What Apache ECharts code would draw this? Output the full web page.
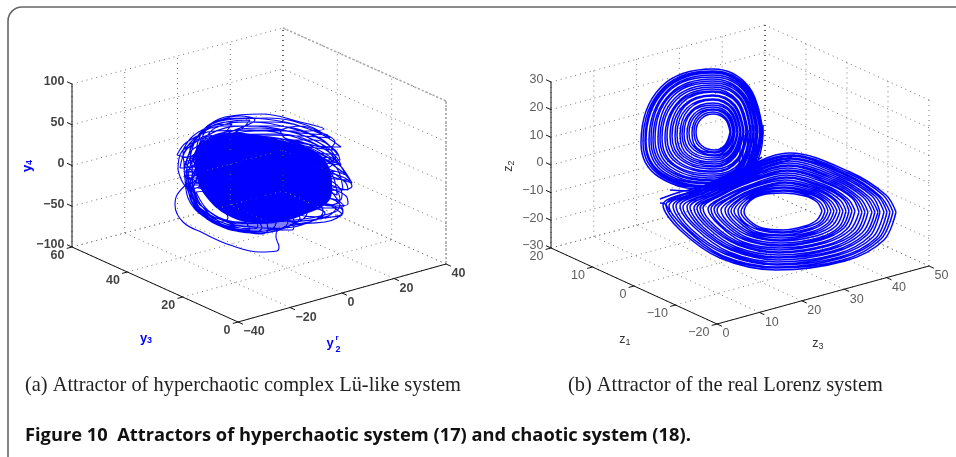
<!DOCTYPE html>
<html>
<head>
<meta charset="utf-8">
<style>html,body{margin:0;padding:0;background:#fff}#chart{width:956px;height:457px}</style>
<script src="https://cdn.jsdelivr.net/npm/echarts@6/dist/echarts.min.js"></script>
</head>
<body>
<div id="chart"></div>
<script>
// tick values of the two 3D boxes
const y3Ticks = [0, 20, 40, 60];
const y2Ticks = [-40, -20, 0, 20, 40];
const y4Ticks = [-100, -50, 0, 50, 100];
const z1Ticks = [-20, -10, 0, 10, 20];
const z3Ticks = [0, 10, 20, 30, 40, 50];
const z2Ticks = [-30, -20, -10, 0, 10, 20, 30];

// traces, in view-plane units of each panel (x1,y1,x2,y2,...)
const bodyA = [195,155, 203,142, 227,133, 257,135, 287,142, 313,150, 328,165, 332,185, 328,202, 303,215, 280,222, 253,223, 227,215, 207,198, 197,178];
const tailA = [188,183, 177,195, 175,205, 183,222, 203,233, 230,245, 260,252, 277,251, 279,247, 276,237, 278,230, 292,230, 294,225, 287,220];
const loopsA = [
  [196,152, 203,131, 225,117, 262,114, 300,122, 324,129, 295,131, 255,131, 215,140],
  [190,158, 200,133, 226,120, 268,118, 306,125, 330,138, 300,136, 255,135, 212,145],
  [186,165, 197,138, 228,122, 272,122, 314,131, 341,147, 318,146, 265,138, 215,150],
  [182,158, 193,140, 222,126, 274,126, 318,137, 338,155, 312,152, 262,143, 212,152],
  [177,155, 187,142, 215,131, 270,130, 318,142, 337,163, 315,158, 262,147, 205,160],
  [180,168, 188,148, 218,135, 278,134, 326,150, 346,175, 325,168, 268,152, 210,165],
  [184,172, 192,150, 222,139, 282,139, 332,158, 352,183, 330,176, 272,158, 212,172],
  [186,178, 192,156, 226,142, 288,146, 334,165, 343,190, 326,183, 275,165, 215,178],
  [188,182, 194,158, 230,145, 292,150, 330,172, 337,195, 320,189, 275,172, 218,185],
  [195,170, 190,185, 200,208, 232,222, 280,224, 325,222, 343,211, 330,198, 280,190, 225,180],
  [192,175, 192,192, 205,213, 238,226, 282,228, 310,222, 323,212, 315,200, 270,188, 220,178],
  [190,178, 194,198, 210,218, 240,228, 272,229, 298,222, 307,213, 298,203, 260,190, 215,178],
  [188,175, 194,200, 212,221, 240,231, 262,233, 285,228, 294,222, 285,210, 250,192, 212,178],
  [186,170, 190,197, 207,219, 235,230, 262,234, 268,230, 266,222, 245,200, 210,180],
  [187,165, 189,188, 204,214, 230,228, 255,232, 262,228, 255,218, 230,198, 200,178],
  [192,160, 193,186, 209,214, 232,226, 252,229, 258,226, 248,214, 225,192, 200,170],
  [230,160, 270,150, 320,170, 345,178, 352,186, 342,190, 310,190, 260,180],
  [240,170, 290,175, 335,190, 340,200, 330,205, 290,205, 250,190],
  [235,140, 270,138, 310,150, 333,163, 320,170, 280,165, 240,155],
  [240,205, 280,210, 320,208, 340,208, 343,213, 325,218, 285,222, 250,218],
  [178,170, 180,155, 192,143, 210,135, 215,150, 200,170, 190,190, 183,183],
  [197,145, 205,128, 220,120, 240,116, 255,120, 235,130, 215,140, 200,155],
  [200,150, 215,128, 250,122, 290,128, 322,140, 333,150, 310,147, 270,140, 225,142],
  [198,148, 212,124, 245,118, 285,122, 318,132, 328,135, 300,133, 260,128, 220,134],
  [194,155, 208,135, 245,126, 292,132, 328,148, 336,158, 315,156, 270,146, 222,148],
  [192,160, 206,139, 250,130, 298,138, 334,155, 341,165, 318,162, 272,152, 225,155],
  [190,166, 205,144, 255,136, 305,146, 338,164, 345,172, 322,170, 275,160, 228,162],
  [191,172, 206,150, 260,142, 312,154, 340,170, 350,180, 328,178, 280,168, 230,170],
  [193,178, 210,155, 265,150, 318,165, 345,182, 348,190, 328,186, 282,176, 232,178],
  [195,182, 215,162, 270,160, 322,176, 342,194, 340,200, 322,196, 280,186, 236,186],
  [198,188, 218,170, 272,170, 325,186, 338,200, 344,206, 326,208, 280,198, 240,194],
  [192,185, 200,205, 240,222, 295,220, 335,212, 340,205, 320,196, 270,190, 225,185],
  [194,188, 204,208, 242,224, 290,224, 328,216, 336,208, 316,202, 265,194, 222,186],
  [196,192, 210,212, 245,226, 285,226, 315,220, 325,213, 305,206, 260,198, 224,190],
  [191,190, 200,212, 228,228, 262,231, 288,226, 300,218, 285,206, 240,195, 210,185],
  [190,184, 197,208, 222,226, 255,233, 278,230, 288,222, 272,208, 232,192, 205,178],
  [188,180, 192,203, 216,224, 248,232, 270,230, 276,223, 258,208, 225,190, 202,174],
  [185,175, 188,198, 206,218, 232,228, 250,230, 244,220, 222,202, 200,184],
  [184,162, 186,185, 198,206, 220,222, 228,218, 212,198, 198,175, 192,160],
  [183,150, 193,136, 212,126, 232,124, 222,136, 204,150, 194,170, 186,168],
  [190,148, 202,132, 226,122, 250,120, 240,130, 218,140, 202,158, 192,168],
  [280,130, 300,126, 322,133, 335,142, 328,148, 305,143, 285,138],
  [290,140, 315,140, 335,150, 340,160, 328,160, 308,152],
  [300,190, 330,190, 346,196, 348,204, 332,206, 310,200],
  [300,205, 325,204, 340,212, 342,215, 325,217, 300,214]
];
const upperLobeB = [
  [230,132, 225,119, 213,114, 201,119, 196,132, 201,145, 215,150, 225,145],
  [231,132, 226,118, 213,112, 199,118, 194,132, 199,146, 215,152, 226,146],
  [233,132, 227,116, 213,110, 198,116, 192,133, 197,148, 215,153, 227,147],
  [234,132, 228,115, 213,109, 196,115, 189,133, 196,149, 215,155, 228,148],
  [235,132, 229,114, 213,107, 194,114, 187,134, 194,150, 215,156, 229,150],
  [237,133, 230,112, 213,105, 192,112, 184,134, 192,152, 215,158, 230,151],
  [238,132, 231,111, 213,103, 191,111, 182,134, 190,153, 215,160, 231,152],
  [240,132, 232,109, 213,100, 189,109, 180,135, 188,155, 215,162, 232,154],
  [241,132, 233,108, 213,99, 187,108, 177,135, 186,156, 215,164, 233,155],
  [243,132, 234,106, 213,96, 185,106, 175,136, 184,157, 215,166, 234,156],
  [244,132, 235,105, 213,95, 184,105, 172,136, 183,159, 215,167, 235,157],
  [246,132, 237,103, 213,92, 182,103, 170,137, 181,160, 215,169, 237,159],
  [247,132, 238,102, 213,91, 180,102, 167,137, 179,162, 215,171, 238,160],
  [248,132, 238,101, 213,89, 179,101, 165,138, 177,163, 215,172, 238,161],
  [250,132, 240,99, 213,87, 177,99, 162,138, 175,165, 215,174, 240,163],
  [251,132, 241,98, 213,85, 175,98, 160,139, 174,166, 215,176, 241,164],
  [253,132, 242,96, 213,83, 173,96, 158,139, 171,167, 215,178, 242,165],
  [254,132, 243,95, 213,81, 171,95, 155,139, 170,169, 215,180, 243,166],
  [256,132, 244,94, 213,79, 170,94, 153,140, 168,170, 215,181, 244,168],
  [257,133, 245,92, 213,77, 168,92, 151,140, 166,171, 215,183, 245,169],
  [258,132, 246,91, 213,75, 167,91, 149,141, 165,173, 215,184, 246,170],
  [260,133, 247,90, 213,73, 165,90, 146,141, 163,174, 215,186, 247,171],
  [261,132, 247,89, 213,72, 164,89, 145,141, 162,175, 215,187, 247,172],
  [262,132, 248,88, 213,71, 163,88, 143,142, 161,176, 215,188, 248,173],
  [263,133, 249,87, 213,69, 161,87, 141,143, 159,177, 215,190, 249,174]
];
const lowerLobeB = [
  [322,211, 317,202, 305,196, 283,193, 262,195, 250,201, 244,212, 250,221, 262,228, 283,230, 305,226, 317,220],
  [325,211, 320,202, 307,195, 283,191, 261,194, 248,201, 241,212, 247,221, 260,229, 283,232, 307,227, 320,221],
  [328,211, 323,201, 309,194, 284,190, 260,193, 246,200, 238,211, 244,222, 259,230, 282,233, 308,229, 322,222],
  [331,211, 325,201, 310,193, 284,188, 259,192, 243,200, 234,211, 242,222, 257,232, 282,235, 310,230, 325,222],
  [334,211, 328,201, 312,192, 284,187, 258,191, 241,199, 231,211, 239,222, 255,233, 282,236, 311,232, 328,223],
  [337,211, 331,201, 314,191, 284,185, 257,190, 239,199, 228,211, 236,223, 254,234, 282,238, 313,233, 330,224],
  [340,211, 334,200, 316,190, 285,183, 256,189, 237,198, 225,210, 233,223, 252,235, 281,240, 315,234, 333,225],
  [343,211, 336,200, 318,189, 285,182, 254,189, 235,198, 221,210, 230,224, 250,236, 281,241, 316,236, 336,226],
  [346,211, 340,200, 320,188, 285,180, 253,187, 232,197, 217,210, 227,224, 248,238, 281,243, 318,238, 339,227],
  [349,211, 343,199, 322,187, 286,178, 252,186, 230,197, 214,209, 224,224, 246,239, 280,245, 320,239, 342,227],
  [352,211, 345,199, 323,186, 286,177, 251,186, 227,196, 211,209, 221,225, 245,240, 280,246, 321,240, 344,228],
  [355,211, 348,199, 325,185, 286,175, 250,185, 225,196, 208,209, 219,225, 243,242, 280,248, 323,242, 347,229],
  [359,212, 352,198, 328,184, 287,173, 248,183, 222,195, 203,208, 215,226, 241,243, 279,250, 325,243, 350,230],
  [362,212, 354,198, 329,183, 287,171, 247,183, 220,195, 200,208, 212,226, 239,244, 279,252, 327,245, 353,231],
  [365,212, 357,198, 331,182, 287,170, 246,182, 218,195, 197,208, 209,226, 238,245, 279,253, 328,246, 356,232],
  [368,212, 360,198, 333,181, 287,168, 245,181, 216,194, 194,208, 207,227, 236,247, 279,255, 330,248, 359,232],
  [372,212, 363,197, 335,180, 288,166, 244,180, 213,194, 190,207, 203,227, 234,248, 278,257, 332,249, 362,233],
  [375,212, 366,197, 337,179, 288,165, 243,179, 211,193, 187,207, 200,227, 232,249, 278,258, 333,251, 365,234],
  [378,212, 369,197, 339,178, 288,163, 242,178, 209,193, 183,207, 198,228, 231,250, 278,260, 335,252, 367,235],
  [380,212, 372,196, 341,177, 289,161, 241,177, 207,192, 180,206, 195,228, 229,252, 277,262, 337,254, 370,236],
  [384,212, 375,196, 343,176, 289,159, 239,176, 204,192, 176,206, 191,229, 227,253, 277,264, 339,255, 373,237],
  [387,212, 378,196, 345,175, 289,158, 238,175, 202,191, 173,206, 188,229, 225,254, 277,265, 340,257, 376,238],
  [390,212, 380,196, 346,174, 289,156, 237,174, 199,191, 169,206, 186,229, 223,256, 277,267, 342,258, 379,238],
  [393,212, 383,195, 348,173, 290,155, 236,173, 197,190, 166,205, 183,230, 222,257, 276,268, 343,260, 381,239],
  [396,212, 386,195, 350,172, 290,153, 235,172, 195,190, 163,205, 180,230, 220,258, 276,270, 345,261, 384,240]
];
// strands running between the two lobes
const crossB = [
  [263,125, 262,145, 258,160, 250,175, 235,183, 215,190],
  [260,125, 259,145, 255,162, 246,176, 232,182, 212,188],
  [257,125, 256,148, 252,163, 243,175, 228,181],
  [254,125, 253,148, 249,165, 240,176, 225,182],
  [251,125, 250,150, 246,168, 236,178, 222,184],
  [248,130, 247,150, 243,168, 232,178, 218,182],
  [244,135, 243,152, 240,170, 228,178],
  [240,135, 240,155, 236,172, 224,180],
  [170,190, 195,191, 230,182, 262,168, 290,160],
  [175,185, 200,187, 235,178, 265,165, 292,157],
  [180,180, 205,183, 240,173, 270,160, 295,155],
  [160,199, 180,192, 205,186, 240,172, 262,157],
  [168,202, 186,194, 212,187, 245,172, 268,160],
  [160,203, 165,204, 170,212]
];

const BLUE = '#0000ff';
const chart = echarts.init(document.getElementById('chart'));

// turns flat traces into one null separated list for a line series
function ringsToData(rings, closed) {
  const out = [];
  rings.forEach(r => {
    for (let i = 0; i < r.length; i += 2) out.push([r[i], r[i + 1]]);
    if (closed) out.push([r[0], r[1]]);
    out.push([null, null]);
  });
  return out;
}

// the box is an oblique view, bilinear between the four floor corners
function makeProjector(box, aTicks, bTicks, cTicks) {
  const aMin = aTicks[0], aMax = aTicks[aTicks.length - 1];
  const bMin = bTicks[0], bMax = bTicks[bTicks.length - 1];
  const cMin = cTicks[0], cMax = cTicks[cTicks.length - 1];
  return (a, b, c) => {
    const u = (a - aMin) / (aMax - aMin), v = (b - bMin) / (bMax - bMin), w = (c - cMin) / (cMax - cMin);
    const mix = i => (1 - u) * (1 - v) * box.front[i] + u * (1 - v) * box.left[i] + (1 - u) * v * box.right[i] + u * v * box.back[i];
    return [mix(0), mix(1) - w * box.height];
  };
}

function boxSeries(gridIndex, box, aTicks, bTicks, cTicks) {
  const p = makeProjector(box, aTicks, bTicks, cTicks);
  const aMin = aTicks[0], aMax = aTicks[aTicks.length - 1];
  const bMin = bTicks[0], bMax = bTicks[bTicks.length - 1];
  const cMin = cTicks[0], cMax = cTicks[cTicks.length - 1];
  const da = (aMax - aMin) * 0.03, db = (bMax - bMin) * 0.025;
  const dots = [], ink = [], edge = [], back = [];
  const seg = (list, s, e) => list.push(s, e, [null, null]);
  aTicks.forEach(a => {
    seg(dots, p(a, bMin, cMin), p(a, bMax, cMin));
    seg(dots, p(a, bMax, cMin), p(a, bMax, cMax));
    seg(ink, p(a, bMin, cMin), p(a, bMin - db, cMin));
  });
  bTicks.forEach(b => {
    seg(dots, p(aMin, b, cMin), p(aMax, b, cMin));
    seg(dots, p(aMax, b, cMin), p(aMax, b, cMax));
    seg(ink, p(aMin, b, cMin), p(aMin - da, b, cMin));
  });
  cTicks.forEach(c => {
    seg(dots, p(aMax, bMin, c), p(aMax, bMax, c));
    seg(dots, p(aMin, bMax, c), p(aMax, bMax, c));
    seg(ink, p(aMax, bMin, c), p(aMax + da, bMin, c));
  });
  seg(ink, p(aMax, bMin, cMin), p(aMax, bMin, cMax));
  seg(ink, p(aMin, bMin, cMin), p(aMax, bMin, cMin));
  seg(ink, p(aMin, bMin, cMin), p(aMin, bMax, cMin));
  seg(back, p(aMax, bMax, cMin), p(aMax, bMax, cMax));
  if (gridIndex === 0) {
    // first panel has these two edges printed heavier
    seg(edge, p(aMax, bMax, cMax), p(aMin, bMax, cMax));
    seg(edge, p(aMin, bMax, cMax), p(aMin, bMax, cMin));
  }

  const num = v => String(v).replace('-', '\u2212');
  const common = { type: 'scatter', xAxisIndex: gridIndex, yAxisIndex: gridIndex, symbolSize: 1, itemStyle: { color: 'transparent' }, silent: true };
  const font = gridIndex === 0
    ? { fontFamily: 'Liberation Sans', fontWeight: 'bold', fontSize: 12.5, color: '#111' }
    : { fontFamily: 'Liberation Sans', fontSize: 12.5, color: '#333' };
  const labelSeries = (ticks, at, position, distance, offset) => Object.assign({}, common, {
    data: ticks.map(t => ({ value: at(t), name: num(t) })),
    label: Object.assign({ show: true, position, distance, offset, formatter: '{b}' }, font)
  });
  const lineBase = { type: 'line', xAxisIndex: gridIndex, yAxisIndex: gridIndex, showSymbol: false, silent: true };
  return [
    Object.assign({}, lineBase, { data: dots, lineStyle: { color: '#777', width: 1, type: [1, 4] } }),
    Object.assign({}, lineBase, { data: back, lineStyle: { color: '#222', width: 1, type: [1, 4] } }),
    Object.assign({}, lineBase, { data: edge, lineStyle: { color: '#aaa', width: 1.6, type: [2, 2] } }),
    Object.assign({}, lineBase, { data: ink, lineStyle: { color: '#111', width: 1 } }),
    labelSeries(cTicks, c => p(aMax, bMin, c), 'left', 7, [0, -2]),
    labelSeries(aTicks, a => p(a, bMin, cMin), 'left', 7, [0, 9]),
    labelSeries(bTicks, b => p(aMin, b, cMin), 'right', 5, [0, 10])
  ];
}

const boxA = { front: [238, 322], left: [72, 247], right: [446, 264], back: [283, 191], height: 163 };
const boxB = { front: [217, 324], left: [51, 248], right: [429, 266], back: [265, 191], height: 166 };

const traceA = { color: BLUE, width: 1.1 };
const traceB = { color: BLUE, width: 1.5 };
const option = {
  animation: false,
  backgroundColor: '#fff',
  grid: [
    { left: 0, top: 0, width: 500, height: 457 },
    { left: 500, top: 0, width: 456, height: 457 }
  ],
  xAxis: [
    { type: 'value', gridIndex: 0, min: 0, max: 500, show: false },
    { type: 'value', gridIndex: 1, min: 0, max: 456, show: false }
  ],
  yAxis: [
    { type: 'value', gridIndex: 0, min: 0, max: 457, inverse: true, show: false },
    { type: 'value', gridIndex: 1, min: 0, max: 457, inverse: true, show: false }
  ],
  series: [
    ...boxSeries(0, boxA, y3Ticks, y2Ticks, y4Ticks),
    ...boxSeries(1, boxB, z1Ticks, z3Ticks, z2Ticks),
    {
      type: 'custom', xAxisIndex: 0, yAxisIndex: 0, silent: true, data: [[0, 0]],
      renderItem: (params, api) => {
        const pts = [];
        for (let i = 0; i < bodyA.length; i += 2) pts.push(api.coord([bodyA[i], bodyA[i + 1]]));
        return { type: 'polygon', shape: { points: pts, smooth: 0.4 }, style: { fill: BLUE } };
      }
    },
    { type: 'line', xAxisIndex: 0, yAxisIndex: 0, showSymbol: false, silent: true, smooth: 0.4, data: ringsToData(loopsA, true), lineStyle: traceA },
    { type: 'line', xAxisIndex: 0, yAxisIndex: 0, showSymbol: false, silent: true, smooth: 0.4, data: ringsToData([tailA], false), lineStyle: traceA },
    { type: 'line', xAxisIndex: 1, yAxisIndex: 1, showSymbol: false, silent: true, smooth: 0.4, data: ringsToData(upperLobeB, true), lineStyle: traceB },
    { type: 'line', xAxisIndex: 1, yAxisIndex: 1, showSymbol: false, silent: true, smooth: 0.35, data: ringsToData(lowerLobeB, true), lineStyle: traceB },
    { type: 'line', xAxisIndex: 1, yAxisIndex: 1, showSymbol: false, silent: true, smooth: 0.35, data: ringsToData(crossB, false), lineStyle: traceB }
  ],
  graphic: [
    { type: 'rect', silent: true, shape: { x: 8, y: 7, width: 1000, height: 520, r: 14 }, style: { fill: null, stroke: '#666', lineWidth: 1.6 } },
    // axis names, panel a
    { type: 'text', x: 27, y: 166, rotation: Math.PI / 2, style: { text: '{v|y}{s|4}', align: 'center', verticalAlign: 'middle', rich: { v: { font: 'bold 13px Liberation Sans', fill: BLUE }, s: { font: 'bold 9px Liberation Sans', fill: BLUE, padding: [5, 0, 0, 0] } } } },
    { type: 'text', x: 146, y: 338, style: { text: '{v|y}{s|3}', align: 'center', verticalAlign: 'middle', rich: { v: { font: 'bold 13px Liberation Sans', fill: BLUE }, s: { font: 'bold 9px Liberation Sans', fill: BLUE, padding: [5, 0, 0, 0] } } } },
    { type: 'text', x: 330, y: 343, style: { text: 'y', align: 'center', verticalAlign: 'middle', font: 'bold 13px Liberation Sans', fill: BLUE } },
    { type: 'text', x: 337, y: 338, style: { text: 'r', align: 'center', verticalAlign: 'middle', font: 'bold 8px Liberation Sans', fill: BLUE } },
    { type: 'text', x: 338, y: 350, style: { text: '2', align: 'center', verticalAlign: 'middle', font: 'bold 9px Liberation Sans', fill: BLUE } },
    // axis names, panel b
    { type: 'text', x: 509, y: 166, rotation: Math.PI / 2, style: { text: '{v|z}{s|2}', align: 'center', verticalAlign: 'middle', rich: { v: { font: '12.5px Liberation Sans', fill: '#333' }, s: { font: '9px Liberation Sans', fill: '#333', padding: [5, 0, 0, 0] } } } },
    { type: 'text', x: 625, y: 340, style: { text: '{v|z}{s|1}', align: 'center', verticalAlign: 'middle', rich: { v: { font: '12.5px Liberation Sans', fill: '#333' }, s: { font: '9px Liberation Sans', fill: '#333', padding: [5, 0, 0, 0] } } } },
    { type: 'text', x: 818, y: 344, style: { text: '{v|z}{s|3}', align: 'center', verticalAlign: 'middle', rich: { v: { font: '12.5px Liberation Sans', fill: '#333' }, s: { font: '9px Liberation Sans', fill: '#333', padding: [5, 0, 0, 0] } } } },
    // captions
    { type: 'text', x: 25, y: 386, style: { text: '(a) Attractor of hyperchaotic complex L\u00fc-like system', verticalAlign: 'middle', font: '20.4px Liberation Serif', fill: '#222' } },
    { type: 'text', x: 568, y: 386, style: { text: '(b) Attractor of the real Lorenz system', verticalAlign: 'middle', font: '20.4px Liberation Serif', fill: '#222' } },
    { type: 'text', x: 25, y: 436, style: { text: 'Figure 10  Attractors of hyperchaotic system (17) and chaotic system (18).', verticalAlign: 'middle', font: 'bold 18.3px Open Sans', fill: '#111' } }
  ]
};
chart.setOption(option);
</script>
</body>
</html>
